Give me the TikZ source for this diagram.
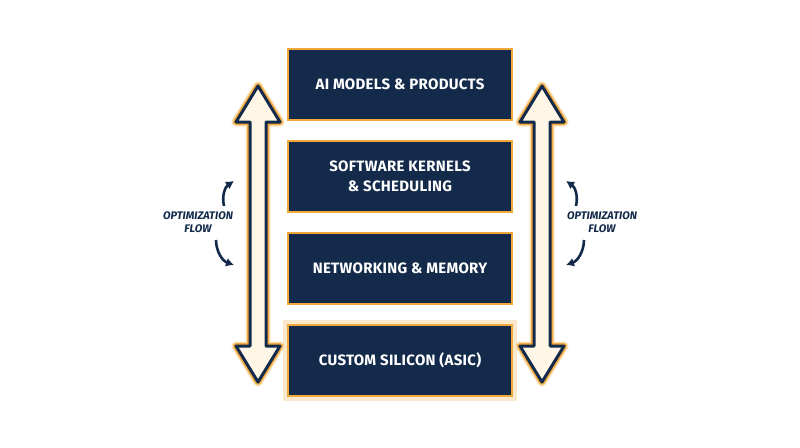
\documentclass[tikz,border=0pt]{standalone}
\usepackage{fontspec}
\setmainfont{Fira Sans}
\usetikzlibrary{arrows.meta}
\begin{document}
\begin{tikzpicture}[x=1pt,y=-1pt,
  box/.style={draw=glow, line width=2.5pt, fill=navy, text=white, minimum width=224pt, minimum height=71pt, font=\fontsize{15}{20}\selectfont\bfseries\addfontfeatures{LetterSpace=2}, align=center, inner sep=0pt},
  lbl/.style={font=\fontsize{11}{13}\selectfont\bfseries\itshape, text=navy, align=center},
  curv/.style={navy, line width=2.6pt, -{Latex[length=8pt,width=9pt]}}]
\definecolor{navy}{HTML}{142A4B}
\definecolor{glow}{HTML}{F2A83A}
\definecolor{cream}{HTML}{FFF6E6}
\useasboundingbox (0,0) rectangle (800,447);
\fill[white] (0,0) rectangle (800,447);
\node[box] (a) at (400,84.5) {AI MODELS \& PRODUCTS};
\node[box] (s) at (400,176.5) {SOFTWARE KERNELS\\\& SCHEDULING};
\node[box] (n) at (400,268.5) {NETWORKING \& MEMORY};
\fill[glow, opacity=0.25] (283,320) rectangle (517,401);
\node[box] (c) at (400,360.5) {CUSTOM SILICON (ASIC)};
\foreach \cx in {258,542}{
 \def\P{(\cx,86)--(\cx-22,122)--(\cx-8,122)--(\cx-8,346)--(\cx-22,346)--(\cx,382)--(\cx+22,346)--(\cx+8,346)--(\cx+8,122)--(\cx+22,122)--cycle}
 \draw[glow, opacity=0.35, line width=9pt, line join=round] \P;
 \draw[glow, line width=6pt, line join=round] \P;
 \filldraw[fill=cream, draw=navy, line width=3pt, line join=round] \P;
}
\node[lbl] (l) at (198,222) {OPTIMIZATION\\FLOW};
\node[lbl] (r) at (602,222) {OPTIMIZATION\\FLOW};
\coordinate (l1) at (224,206); \coordinate (l2) at (234,181);
\coordinate (l3) at (216,240); \coordinate (l4) at (234,265);
\draw[curv] (l1) to[bend left=35] (l2);
\draw[curv] (l3) to[bend right=35] (l4);
\coordinate (r1) at (576,206); \coordinate (r2) at (566,181);
\coordinate (r3) at (584,240); \coordinate (r4) at (566,265);
\draw[curv] (r1) to[bend right=35] (r2);
\draw[curv] (r3) to[bend left=35] (r4);
\end{tikzpicture}
\end{document}
